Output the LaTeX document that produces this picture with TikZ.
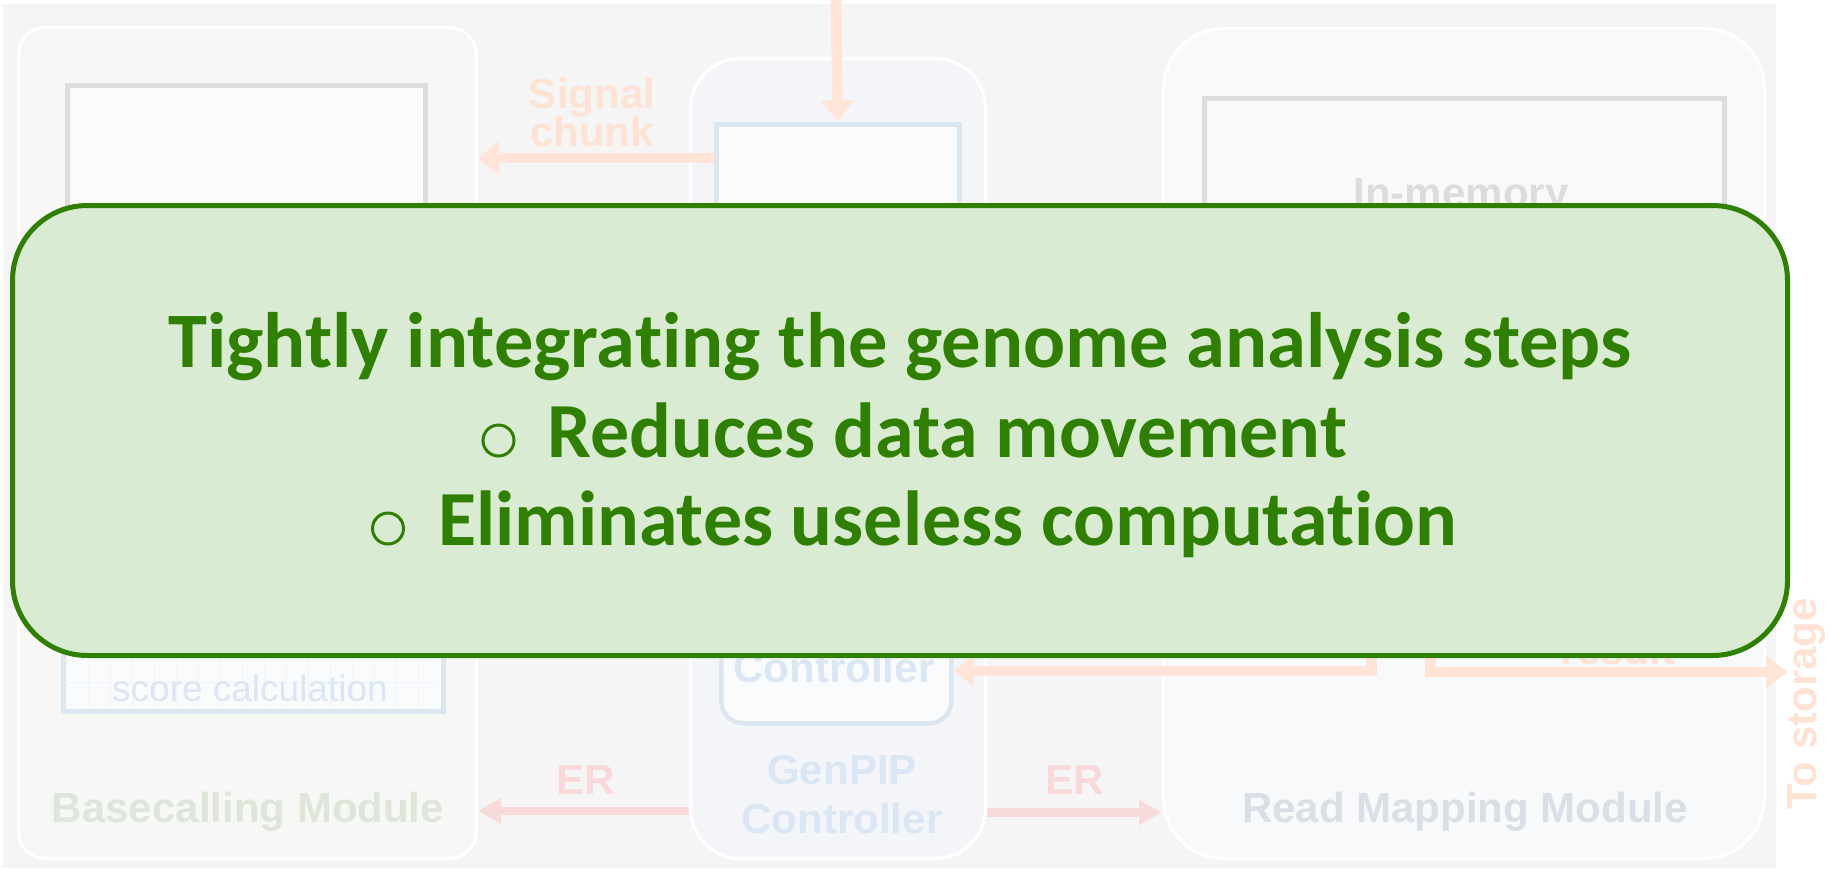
\documentclass[tikz,border=0pt]{standalone}
\usepackage{fontspec}
\usetikzlibrary{arrows.meta}
\newfontfamily\callfont{Carlito}[Ligatures={NoCommon}]
\newfontfamily\labfont{Liberation Sans}

\definecolor{panelgray}{HTML}{F5F5F5}
\definecolor{bcfill}{HTML}{F7F8F6}
\definecolor{gpfill}{HTML}{F3F5F9}
\definecolor{rmfill}{HTML}{F8F9FB}
\definecolor{grayline}{HTML}{DDDDDD}
\definecolor{blueline}{HTML}{DCE6F1}
\definecolor{boxwhite}{HTML}{FAFBFD}
\definecolor{gridc}{HTML}{F1F4F8}
\definecolor{peach}{HTML}{FFE4D7}
\definecolor{peachtext}{HTML}{FEE2D4}
\definecolor{pinkline}{HTML}{F9DADA}
\definecolor{pinktext}{HTML}{F8D8D9}
\definecolor{bluetext}{HTML}{DAE6F3}
\definecolor{greentext}{HTML}{DDE6D8}
\definecolor{slatetext}{HTML}{DADFE7}
\definecolor{graytext}{HTML}{DCDCDC}
\definecolor{callfill}{HTML}{DAEBD3}
\definecolor{callgreen}{HTML}{2F8000}

\newlength\linewd
\newsavebox\linebox

\begin{document}
% size of the callout text, fitted to its first line
\sbox\linebox{\callfont\bfseries\fontsize{100}{120}\selectfont Tightly integrating the genome analysis steps}%
\setlength\linewd{\wd\linebox}%
\pgfmathsetmacro\mainsize{1463/\linewd*100}%
\pgfmathsetmacro\pointsize{\mainsize*0.993}%
\begin{tikzpicture}[x=1pt,y=-1pt,
  module/.style={draw=white, line width=3pt, rounded corners=#1,
    anchor=north west, inner sep=0pt},
  framebox/.style={line width=5pt, anchor=north west, inner sep=0pt},
  lab/.style={font=\labfont\bfseries\fontsize{42}{42}\selectfont,
    inner sep=0pt, anchor=base},
  peacharrow/.style={draw=peach, line width=10.5pt,
    -{Triangle[length=21pt,width=32pt]}},
  erarrow/.style={draw=pinkline, line width=8.5pt,
    -{Triangle[length=23pt,width=24pt]}},
  bullet/.style={draw=callgreen, line width=3pt, circle,
    minimum size=31pt, inner sep=0pt},
  calltext/.style={text=callgreen, inner sep=0pt,
    font=\callfont\bfseries\fontsize{#1}{#1}\selectfont},
]
\useasboundingbox (0,0) rectangle (1831,871);

% background panel
\fill[panelgray] (3,4) rectangle (1776,868);

% the three modules
\node[module=27pt, fill=bcfill, minimum width=458pt, minimum height=831pt]
  (bcm) at (17,26) {};
\node[module=50pt, fill=gpfill, minimum width=295pt, minimum height=800pt]
  (gpc) at (689,57) {};
\node[module=60pt, fill=rmfill, minimum width=601pt, minimum height=830pt]
  (rmm) at (1162,27) {};

% inner blocks
\node[framebox, draw=grayline, fill=white!50!bcfill, minimum width=358pt,
  minimum height=330pt] (bcupper) at (64.5,82.5) {};
\node[framebox, draw=blueline, line width=4.5pt, fill=boxwhite,
  minimum width=380pt, minimum height=289pt] (bclower) at (61,420) {};
\begin{scope}
  \clip (64,423) rectangle (438,706);
  \draw[gridc, line width=0.7pt, step=22pt] (40,400) grid (460,720);
\end{scope}
\node[framebox, draw=blueline, fill=boxwhite, minimum width=243.5pt,
  minimum height=300pt] (gpupper) at (713.5,121.5) {};
\node[framebox, draw=blueline, line width=4.5pt, fill=boxwhite,
  rounded corners=22pt, minimum width=230pt, minimum height=241pt]
  (gplower) at (719,480) {};
\node[framebox, draw=grayline, fill=rmfill, minimum width=520pt,
  minimum height=300pt] (rmupper) at (1201.5,95.5) {};

% labels
\node[font=\labfont\fontsize{37}{37}\selectfont, text=bluetext, inner sep=0pt,
  anchor=base] (scorelab) at (250,701) {score calculation};
\node[lab, text=graytext] (memlab) at (1461,207) {In-memory};
\node[lab, text=bluetext] (ctrllab) at (834,682) {Controller};
\node[lab, text=greentext] (bclab) at (248,822) {Basecalling Module};
\node[lab, text=slatetext] (rmlab) at (1465,822) {Read Mapping Module};
\node[lab, text=bluetext] (gplab1) at (842,784) {GenPIP};
\node[lab, text=bluetext] (gplab2) at (842,833) {Controller};
\node[lab, text=peachtext] (siglab1) at (592,108) {Signal};
\node[lab, text=peachtext] (siglab2) at (592,146) {chunk};
\node[lab, text=peachtext] (reslab) at (1618,664) {result};
\node[lab, text=pinktext] (erlab1) at (586,794) {ER};
\node[lab, text=pinktext] (erlab2) at (1075,794) {ER};
\node[lab, text=peachtext, rotate=90] (storage) at (1816,704) {To storage};

% data paths
\coordinate (feed) at (836,0);
\coordinate (mapout) at (1371.5,600);
\coordinate (resout) at (1430.5,600);
\draw[peacharrow] (feed) -- (gpupper.north);
\draw[peacharrow] (gpupper.west |- 0,158) -- (bcm.east |- 0,158);
\draw[peacharrow, line join=miter, -{Triangle[length=20pt,width=29pt]}]
  (mapout) -- (1371.5,671) -- (gplower.east |- 0,671);
\draw[peacharrow, line join=miter] (resout) -- (1430.5,672)
  -- (storage.north |- 0,672);
\draw[erarrow] (gpc.west |- 0,811) -- (bcm.east |- 0,811);
\draw[erarrow] (gpc.east |- 0,812.5) -- (rmm.west |- 0,812.5);

% callout
\node[draw=callgreen, fill=callfill, line width=5pt, rounded corners=75pt,
  minimum width=1775pt, minimum height=450pt, inner sep=0pt]
  (callout) at (900,430.5) {};
\node[calltext=\mainsize, anchor=base] (head) at (900,367)
  {Tightly integrating the genome analysis steps};
\node[calltext=\pointsize, anchor=base west] (pt1) at (547,457)
  {Reduces data movement};
\node[calltext=\pointsize, anchor=base west] (pt2) at (438,545)
  {Eliminates useless computation};
\node[bullet] (b1) at (498.5,440.5) {};
\node[bullet] (b2) at (388,528.5) {};
\end{tikzpicture}
\end{document}
